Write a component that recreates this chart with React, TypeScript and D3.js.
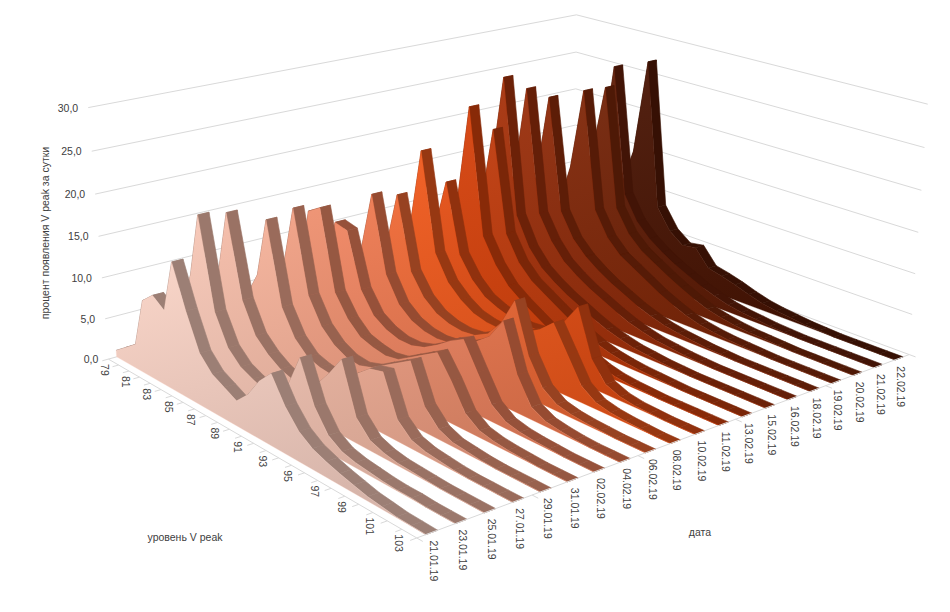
import React from "react";
import * as d3 from "d3";

// ---------- data ----------
const categories = [79, 80, 81, 82, 83, 84, 85, 86, 87, 88, 89, 90, 91, 92, 93, 94, 95, 96, 97, 98, 99, 100, 101, 102, 103, 104];
const dates = ["21.01.19", "23.01.19", "25.01.19", "27.01.19", "29.01.19", "31.01.19", "02.02.19", "04.02.19", "06.02.19", "08.02.19",
  "10.02.19", "11.02.19", "13.02.19", "15.02.19", "16.02.19", "18.02.19", "19.02.19", "20.02.19", "21.02.19", "22.02.19"];
const s2101 = [0.8, 1.9, 3.0, 9.0, 10.3, 9.2, 15.5, 10.5, 6.3, 4.6, 3.8, 3.0, 4.5, 6.8, 8.4, 5.5, 3.5, 2.4, 1.8, 1.3, 0.9, 0.5, 0.3, 0.1, 0.05, 0];
const s2301 = [0.5, 1.5, 3.5, 6.0, 8.0, 12.5, 20.1, 9.5, 6.0, 4.5, 3.8, 3.2, 3.5, 5.5, 9.2, 4.5, 2.0, 1.0, 0.6, 0.4, 0.2, 0.1, 0.1, 0, 0, 0];
const s2501 = [0.4, 1.2, 3.0, 5.5, 8.0, 12.0, 19.6, 10.0, 6.5, 5.0, 4.0, 3.5, 3.5, 4.5, 6.5, 8.8, 3.0, 1.2, 0.6, 0.3, 0.2, 0.1, 0, 0, 0, 0];
const s2701 = [0.3, 1.0, 2.5, 4.5, 6.5, 8.5, 11.5, 18.6, 9.0, 6.0, 4.5, 4.0, 3.8, 4.2, 5.5, 6.8, 7.2, 2.5, 1.0, 0.5, 0.3, 0.1, 0, 0, 0, 0];
const s2901 = [0.3, 0.9, 2.2, 4.0, 6.0, 8.5, 12.0, 19.2, 9.5, 6.5, 5.0, 4.2, 4.0, 4.5, 5.5, 6.5, 7.5, 3.0, 1.2, 0.5, 0.3, 0.1, 0, 0, 0, 0];
const s3101 = [0.3, 0.8, 2.0, 3.8, 6.0, 9.0, 17.5, 18.5, 9.0, 6.5, 5.0, 4.5, 4.2, 4.5, 5.5, 6.5, 7.5, 5.0, 2.0, 0.8, 0.4, 0.2, 0.1, 0, 0, 0];
const s0202 = [0.2, 0.7, 1.8, 3.5, 5.5, 8.5, 15.4, 15.0, 8.5, 6.0, 5.0, 4.5, 4.5, 5.0, 6.0, 7.2, 8.1, 5.0, 2.0, 0.8, 0.4, 0.2, 0.1, 0, 0, 0];
const s0402 = [0.2, 0.6, 1.6, 3.2, 5.0, 8.0, 11.5, 18.6, 9.5, 6.5, 5.2, 4.6, 4.4, 4.6, 5.2, 6.2, 7.5, 10.0, 4.5, 1.5, 0.6, 0.3, 0.1, 0, 0, 0];
const s0602 = [0.2, 0.6, 1.5, 3.0, 5.0, 8.0, 11.0, 17.8, 9.0, 6.5, 5.2, 4.6, 4.4, 4.6, 5.5, 7.5, 10.8, 5.0, 2.0, 0.8, 0.4, 0.2, 0.1, 0, 0, 0];
const s0802 = [0.2, 0.5, 1.4, 3.0, 5.0, 8.5, 13.0, 22.4, 10.5, 7.5, 6.0, 5.0, 4.6, 4.5, 4.8, 5.5, 6.5, 8.0, 5.0, 2.0, 0.8, 0.4, 0.2, 0.1, 0, 0];
const s1002 = [0.2, 0.5, 1.4, 3.0, 5.0, 8.0, 11.5, 17.9, 9.5, 7.0, 5.5, 4.8, 4.3, 4.0, 4.2, 5.0, 6.5, 9.0, 3.5, 1.2, 0.5, 0.2, 0.1, 0, 0, 0];
const s1102 = [0.2, 0.5, 1.3, 3.0, 5.5, 9.0, 15.0, 26.4, 11.0, 8.0, 6.0, 4.8, 3.8, 2.8, 2.0, 3.1, 1.5, 0.8, 0.4, 0.2, 0.1, 0, 0, 0, 0, 0];
const s1302 = [0.2, 0.5, 1.3, 3.0, 5.5, 9.0, 13.5, 23.0, 10.5, 7.5, 5.8, 4.8, 3.8, 2.8, 2.0, 1.3, 0.8, 0.5, 0.3, 0.2, 0.1, 0, 0, 0, 0, 0];
const s1502 = [0.2, 0.5, 1.5, 3.5, 7.0, 17.0, 28.3, 11.5, 8.0, 6.0, 4.8, 3.8, 3.0, 2.2, 1.5, 1.0, 0.6, 0.4, 0.2, 0.1, 0, 0, 0, 0, 0, 0];
const s1602 = [0.2, 0.5, 1.5, 3.5, 7.0, 15.0, 26.3, 11.0, 8.0, 6.0, 4.8, 3.8, 3.0, 2.2, 1.5, 1.0, 0.6, 0.4, 0.2, 0.1, 0, 0, 0, 0, 0, 0];
const s1802 = [0.2, 0.5, 1.5, 3.5, 7.0, 14.0, 24.6, 10.5, 7.5, 5.8, 4.6, 3.6, 2.8, 2.0, 1.4, 0.9, 0.6, 0.4, 0.2, 0.1, 0, 0, 0, 0, 0, 0];
const s1902 = [0.1, 0.4, 1.2, 3.0, 5.5, 9.0, 15.0, 25.3, 10.5, 7.5, 5.8, 4.8, 3.8, 2.8, 2.0, 1.3, 0.8, 0.5, 0.3, 0.2, 0.1, 0, 0, 0, 0, 0];
const s2002 = [0.1, 0.4, 1.2, 3.0, 5.5, 9.5, 16.0, 25.1, 10.0, 7.2, 5.6, 4.6, 3.6, 2.7, 1.9, 1.2, 0.8, 0.5, 0.3, 0.2, 0.1, 0, 0, 0, 0, 0];
const s2102 = [0.1, 0.4, 1.3, 3.5, 7.0, 14.0, 26.7, 10.5, 7.5, 5.8, 4.6, 3.6, 2.8, 2.0, 1.4, 0.9, 0.6, 0.4, 0.2, 0.1, 0, 0, 0, 0, 0, 0];
const s2202 = [0.1, 0.3, 1.0, 2.8, 5.5, 9.5, 15.0, 27.2, 8.6, 6.0, 4.7, 5.0, 2.9, 2.5, 2.0, 1.4, 0.9, 0.6, 0.4, 0.2, 0.1, 0, 0, 0, 0, 0];
const seriesValues = [s2101, s2301, s2501, s2701, s2901, s3101, s0202, s0402, s0602, s0802,
  s1002, s1102, s1302, s1502, s1602, s1802, s1902, s2002, s2102, s2202];
const valueTicks = [0, 5, 10, 15, 20, 25, 30];

// ---------- layout: projection of the 3D box (u: categories, v: series, h: value), page px ----------
const calibration: [number, number, number, number, number][] = [
  [0, 0, 0, 108, 359], [0, 0, 0.5, 99, 236], [0, 0, 1, 88, 108],
  [1, 1, 0, 909, 355], [1, 1, 0.5, 918, 232], [1, 1, 1, 928, 104],
  [1, 0, 0, 417, 538], [0, 1, 1, 576, 15], [0, 1, 0.5, 576, 125], [0, 1, 5 / 6, 576, 52],
];

function gaussSolve(A: number[][], b: number[]): number[] {
  const n = b.length;
  const M = A.map((r, i) => [...r, b[i]]);
  for (let i = 0; i < n; i++) {
    let p = i;
    for (let k = i + 1; k < n; k++) if (Math.abs(M[k][i]) > Math.abs(M[p][i])) p = k;
    [M[i], M[p]] = [M[p], M[i]];
    for (let k = 0; k < n; k++) {
      if (k === i) continue;
      const f = M[k][i] / M[i][i];
      for (let j = i; j <= n; j++) M[k][j] -= f * M[i][j];
    }
  }
  return M.map((r, i) => r[n] / r[i]);
}
function fitCamera(): number[] {
  const AtA = Array.from({ length: 11 }, () => Array(11).fill(0));
  const Atb = Array(11).fill(0);
  const add = (r: number[], t: number) => {
    for (let i = 0; i < 11; i++) {
      Atb[i] += r[i] * t;
      for (let j = 0; j < 11; j++) AtA[i][j] += r[i] * r[j];
    }
  };
  for (const [X, Y, Z, x, y] of calibration) {
    add([X, Y, Z, 1, 0, 0, 0, 0, -x * X, -x * Y, -x * Z], x);
    add([0, 0, 0, 0, X, Y, Z, 1, -y * X, -y * Y, -y * Z], y);
  }
  return gaussSolve(AtA, Atb);
}
const P = fitCamera();
function project(u: number, v: number, h: number): [number, number] {
  const w = P[8] * u + P[9] * v + P[10] * h + 1;
  return [(P[0] * u + P[1] * v + P[2] * h + P[3]) / w, (P[4] * u + P[5] * v + P[6] * h + P[7]) / w];
}

// ---------- scales ----------
const uScale = d3.scalePoint<number>().domain(categories).range([0, 1]);
const vScale = d3.scaleBand<string>().domain(dates).range([0, 1]).paddingInner(0.6).paddingOuter(0.3);
const hScale = d3.scaleLinear().domain([0, 30]).range([0, 1]);
const faceColor = d3.scaleLinear<string>()
  .domain([0, 3, 5, 7, 9, 11, 13, 15, 17, 19])
  .range(["#fad3c6", "#f6b29a", "#f0906f", "#f07a50", "#f25a1c", "#d8420b", "#a8320a", "#8e2a09", "#742307", "#4a1504"])
  .interpolate(d3.interpolateRgb);

const FONT = "'Liberation Sans', Arial, sans-serif";
const TXT = "#404040";
const GRID = "#d9d9d9";

const pts = (a: [number, number][]) => a.map((p) => `${p[0].toFixed(2)},${p[1].toFixed(2)}`).join(" ");

export default function App() {
  const gridLines = valueTicks.map((t) => {
    const h = hScale(t);
    return (
      <polyline key={"g" + t} points={pts([project(0, 0, h), project(0, 1, h), project(1, 1, h)])}
        fill="none" stroke={GRID} strokeWidth={1} />
    );
  });
  const valueLabels = valueTicks.map((t) => {
    const [x, y] = project(0, 0, hScale(t));
    return (
      <text key={"vl" + t} x={x - 10} y={y} textAnchor="end" dominantBaseline="central">
        {t.toFixed(1).replace(".", ",")}
      </text>
    );
  });

  const defs: JSX.Element[] = [];
  const ribbons: JSX.Element[] = [];
  for (let s = dates.length - 1; s >= 0; s--) {
    const vals = seriesValues[s];
    const vf = vScale(dates[s])!;
    const vb = vf + vScale.bandwidth();
    const col = faceColor(s);
    const top = d3.interpolateRgb(col, "#1a0a05")(0.42);
    const cap = d3.interpolateRgb(col, "#1a0a05")(0.3);
    const gid = "gr" + s;
    defs.push(
      <linearGradient key={gid} id={gid} x1="0" y1="0" x2="0.35" y2="1">
        <stop offset="0" stopColor={d3.interpolateRgb(col, "#ffffff")(0.06)} />
        <stop offset="1" stopColor={d3.interpolateRgb(col, "#000000")(0.14)} />
      </linearGradient>
    );
    const front = categories.map((c, i) => project(uScale(c)!, vf, hScale(vals[i])));
    const back = categories.map((c, i) => project(uScale(c)!, vb, hScale(vals[i])));
    const parts: JSX.Element[] = [];
    for (let i = 0; i < categories.length - 1; i++) {
      parts.push(
        <polygon key={"t" + i} points={pts([front[i], front[i + 1], back[i + 1], back[i]])}
          fill={top} stroke={top} strokeWidth={0.6} strokeLinejoin="round" />
      );
    }
    const last = categories.length - 1;
    parts.push(
      <polygon key="cap" points={pts([project(1, vf, 0), front[last], back[last], project(1, vb, 0)])}
        fill={cap} stroke={cap} strokeWidth={0.5} />
    );
    parts.push(
      <polygon key="front" points={pts([project(0, vf, 0), ...front, project(1, vf, 0)])}
        fill={`url(#${gid})`} stroke={col} strokeWidth={0.3} />
    );
    ribbons.push(<g key={"s" + s}>{parts}</g>);
  }

  const catAxis = (
    <line x1={project(0, 0, 0)[0]} y1={project(0, 0, 0)[1]} x2={project(1, 0, 0)[0]} y2={project(1, 0, 0)[1]} stroke={GRID} />
  );
  const serAxis = (
    <line x1={project(1, 0, 0)[0]} y1={project(1, 0, 0)[1]} x2={project(1, 1, 0)[0]} y2={project(1, 1, 0)[1]} stroke={GRID} />
  );
  const catTicks = categories.map((c) => {
    const u = uScale(c)!;
    const a = project(u, 0, 0), b = project(u, -0.011, 0);
    return <line key={"ct" + c} x1={a[0]} y1={a[1]} x2={b[0]} y2={b[1]} stroke={GRID} />;
  });
  const serTicks = [0, 4, 8, 12, 16, 20].map((k) => {
    const v = k / dates.length;
    const a = project(1, v, 0), b = project(1.016, v, 0);
    return <line key={"st" + k} x1={a[0]} y1={a[1]} x2={b[0]} y2={b[1]} stroke={GRID} />;
  });
  const catLabels = categories.filter((_, i) => i % 2 === 0).map((c) => {
    const [x, y] = project(uScale(c)!, 0, 0);
    const lx = x - 3, ly = y + 5;
    return (
      <text key={"cl" + c} x={lx} y={ly} transform={`rotate(90 ${lx} ${ly})`} dominantBaseline="central">{c}</text>
    );
  });
  const serLabels = dates.map((d) => {
    const [x, y] = project(1, vScale(d)! + vScale.bandwidth() / 2, 0);
    const lx = x + 2, ly = y + 8;
    return (
      <text key={"sl" + d} x={lx} y={ly} transform={`rotate(90 ${lx} ${ly})`} dominantBaseline="central">{d}</text>
    );
  });

  return (
    <svg width={950} height={612} style={{ position: "absolute", left: 0, top: 0 }}
      fontFamily={FONT} fontSize={10.5} fill={TXT}>
      <rect x={0} y={0} width={950} height={612} fill="#ffffff" />
      <defs>{defs}</defs>
      {gridLines}
      {ribbons}
      {catAxis}
      {serAxis}
      {catTicks}
      {serTicks}
      <g fill={TXT}>
        {valueLabels}
        {catLabels}
        {serLabels}
        <text x={45} y={233} transform="rotate(-90 45 233)" textAnchor="middle" dominantBaseline="central">
          процент появления V peak за сутки
        </text>
        <text x={185} y={537} textAnchor="middle" dominantBaseline="central">уровень V peak</text>
        <text x={700} y={532} textAnchor="middle" dominantBaseline="central">дата</text>
      </g>
    </svg>
  );
}
